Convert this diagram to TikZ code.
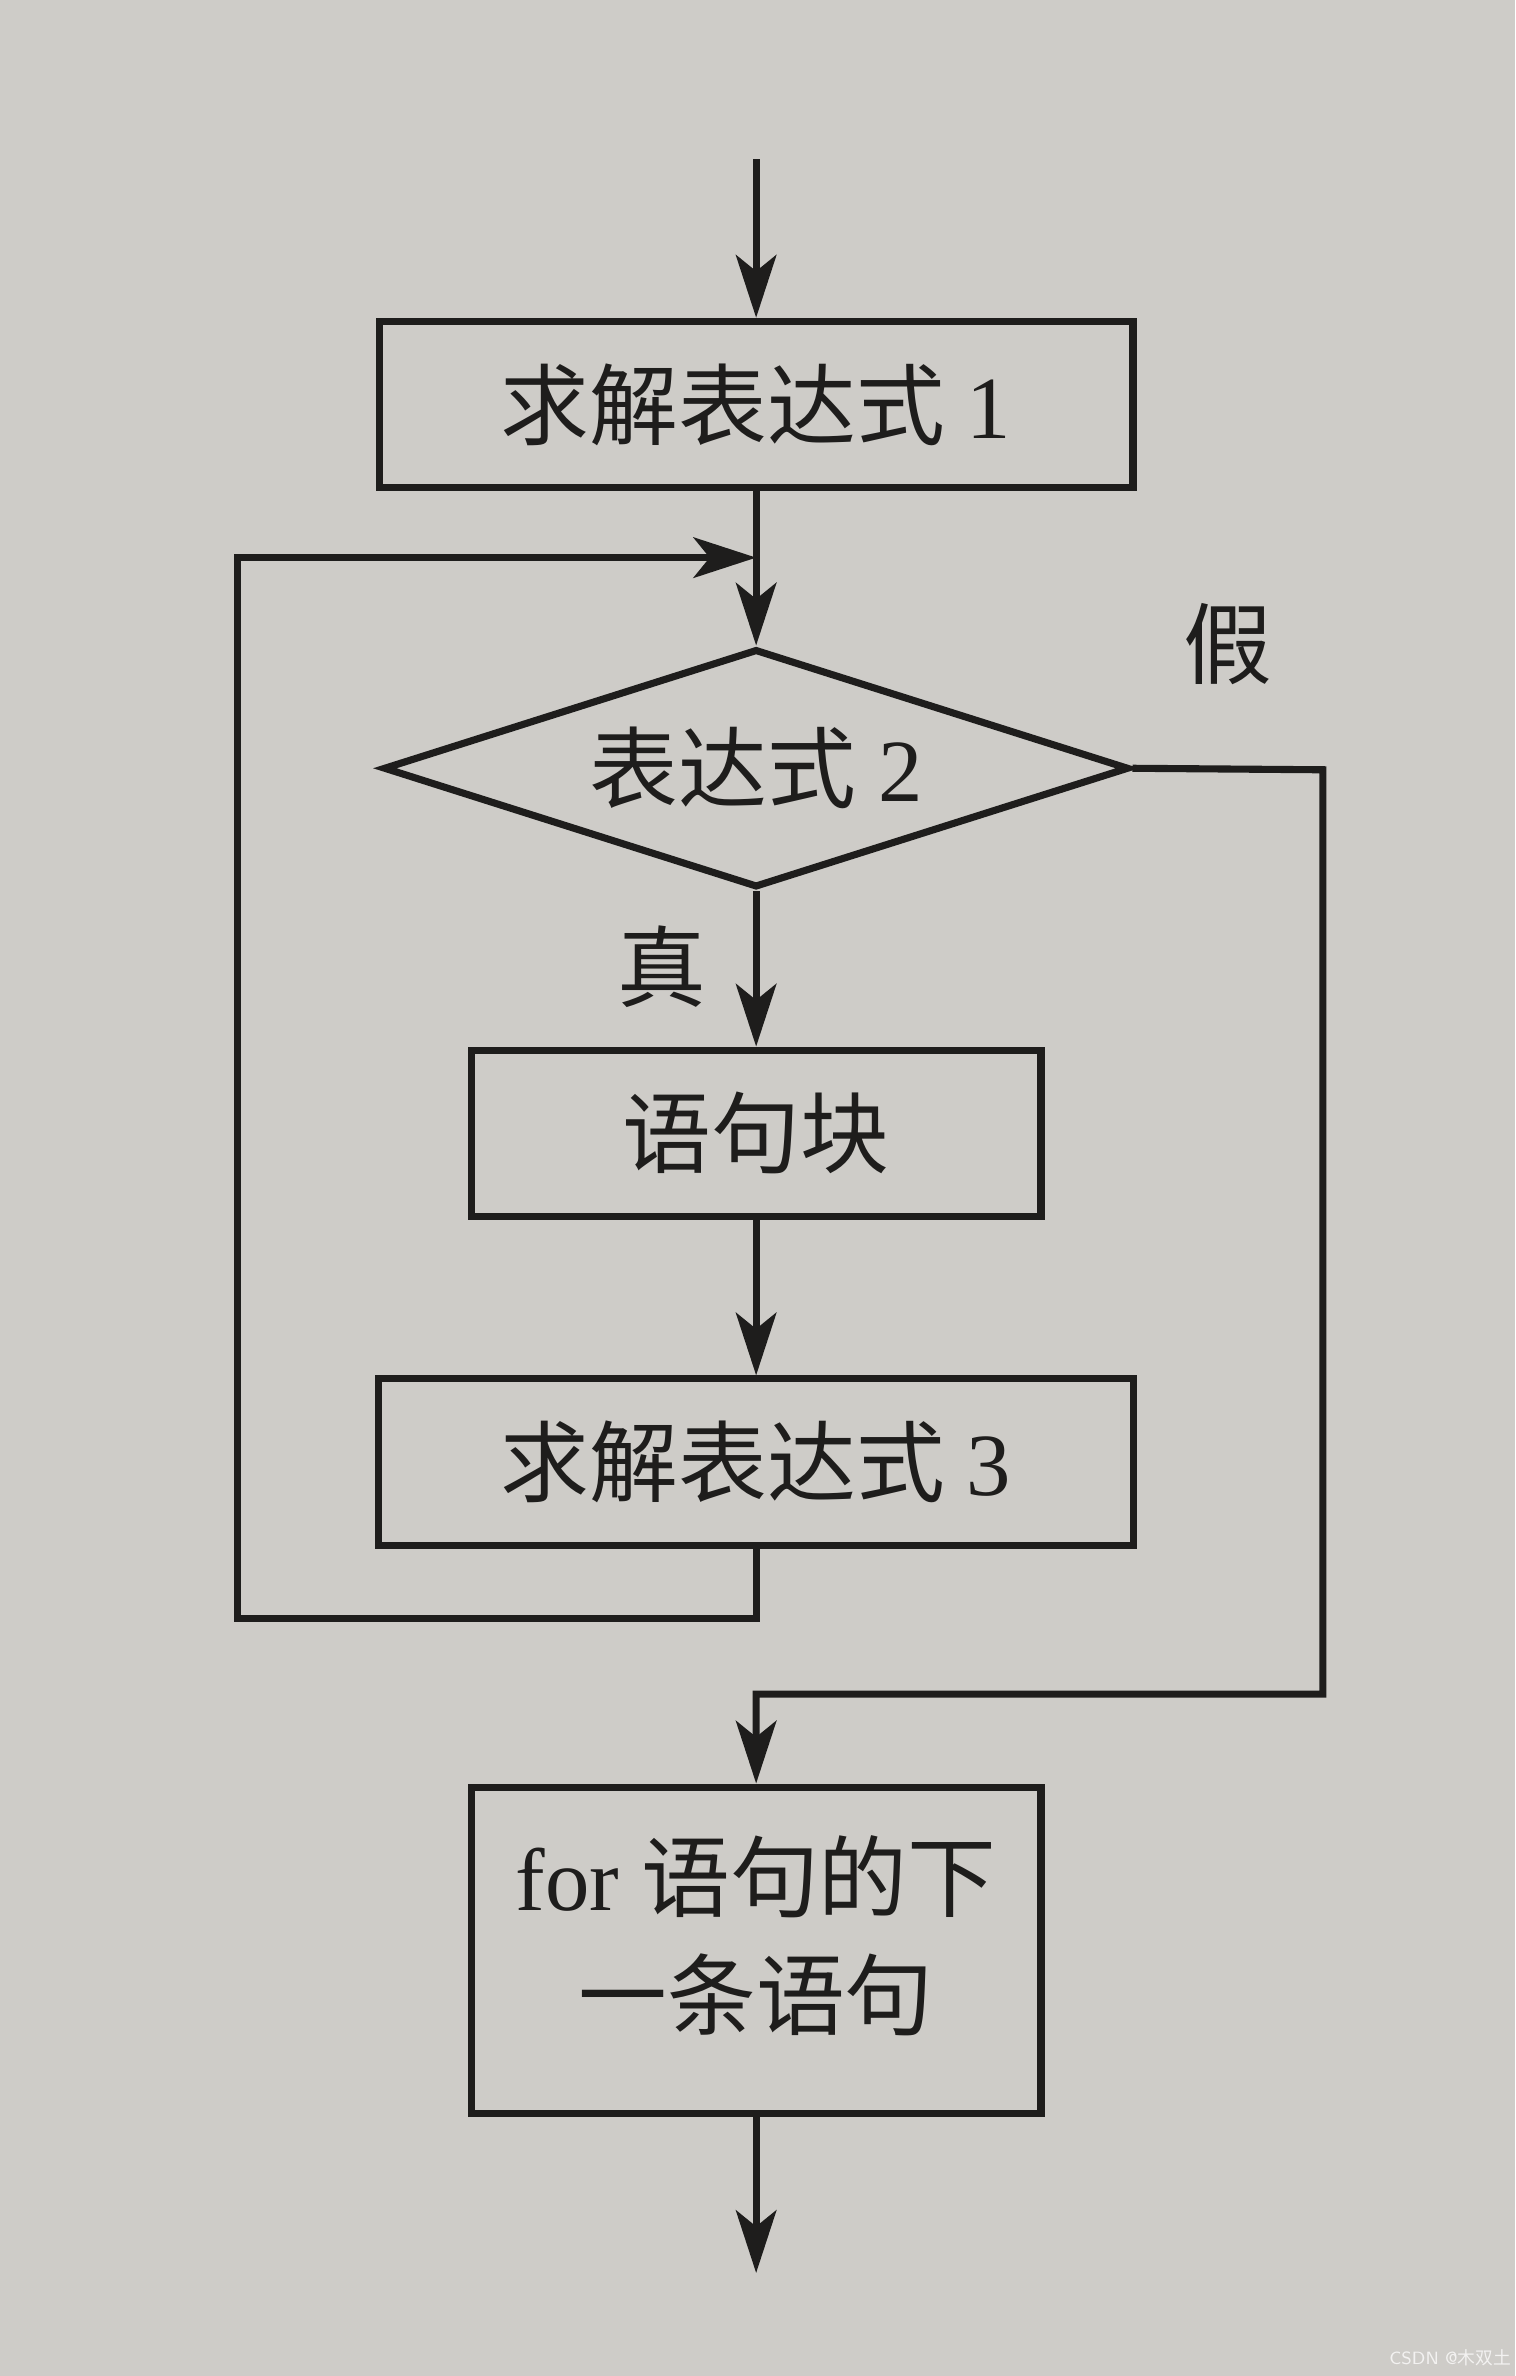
\documentclass[tikz,border=0pt]{standalone}
\usepackage{fontspec}
\setmainfont{Liberation Serif}
\newfontfamily\cjk{Noto Sans CJK SC}
\usetikzlibrary{arrows.meta,calc,positioning,shapes.geometric}
\definecolor{carta}{RGB}{206,204,200}
\definecolor{inchiostro}{RGB}{30,29,28}

\begin{document}
\begin{tikzpicture}[x=0.015cm, y=-0.015cm, >={Stealth[length=0.62cm,width=0.4cm,inset=0.16cm]},
    font=\fontsize{25}{33}\selectfont]

% Sfondo (foglio)
\fill[carta] (0,0) rectangle (1000,1568);
\useasboundingbox (0,0) rectangle (1000,1568);

% Stili
\tikzset{
    blocco/.style={rectangle, draw=inchiostro, line width=2pt, inner sep=0pt, align=center, text=inchiostro},
    rombo/.style={diamond, draw=inchiostro, line width=2pt, inner sep=0pt, aspect=3.13, text=inchiostro},
    freccia/.style={->, draw=inchiostro, line width=2pt},
    etichetta/.style={text=inchiostro, inner sep=0pt}
}

% Blocchi
\node[blocco, minimum width=7.46cm, minimum height=1.65cm] (b1) at (499,267) {{\cjk 求解表达式} 1};
\node[rombo, minimum width=7.38cm, minimum height=2.36cm] (cond) at (499,507) {{\cjk 表达式} 2};
\node[blocco, minimum width=5.64cm, minimum height=1.65cm] (b2) at (499,748) {\cjk 语句块};
\node[blocco, minimum width=7.47cm, minimum height=1.65cm] (b3) at (499,965) {{\cjk 求解表达式} 3};
\node[blocco, minimum width=5.64cm, minimum height=3.23cm] (b4) at (499,1287) {for {\cjk 语句的下}\\{\cjk 一条语句}\\[-0.8cm]};

% Etichette
\node[etichetta] (vero) at (437,638) {\cjk 真};
\node[etichetta] (falso) at (810,425) {\cjk 假};

% Punti di passaggio
\coordinate (inizio) at (499,105);
\coordinate (rientro) at (499,368);
\coordinate (sx) at (157,1068);
\coordinate (dx) at (873,508);
\coordinate (unione) at (499,1118);
\coordinate (fine) at (499,1500);

% Frecce
\draw[freccia] (inizio) -- (b1.north);
\draw[freccia] (b1.south) -- (cond.north);
\draw[freccia] (cond.south) -- (b2.north);
\draw[freccia] (b2.south) -- (b3.north);
\draw[freccia] (b3.south) |- (sx) |- (rientro);
\draw[freccia] (cond.east) -- (dx) |- (unione) -- (b4.north);
\draw[freccia] (b4.south) -- (fine);

% Filigrana
\node[text=white!75!carta, inner sep=0pt, font=\fontsize{5}{6}\selectfont] (filigrana) at (957,1556) {\sffamily CSDN @{\cjk 木双土}};

\end{tikzpicture}
\end{document}
